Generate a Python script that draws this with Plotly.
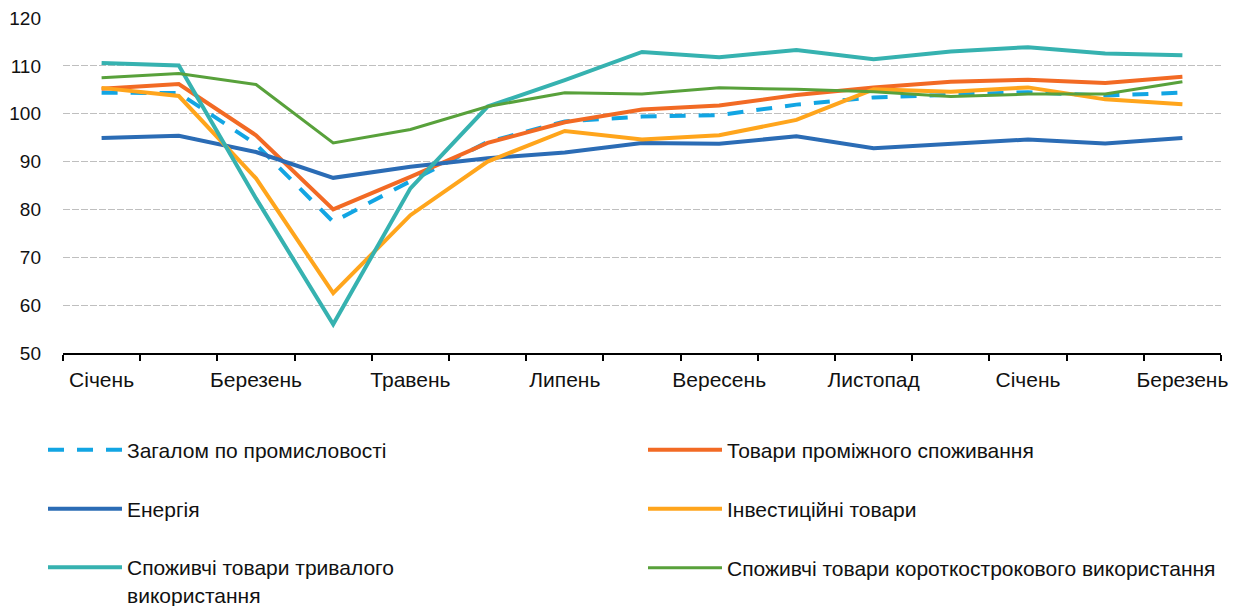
import plotly.graph_objects as go

months = ["Січень", "Лютий", "Березень", "Квітень", "Травень", "Червень", "Липень",
          "Серпень", "Вересень", "Жовтень", "Листопад", "Грудень", "Січень", "Лютий", "Березень"]

total = [104.4, 104.3, 93.6, 77.4, 85.9, 94.1, 98.4, 99.4, 99.7, 101.9, 103.4, 104.0, 104.5, 103.8, 104.4]
intermediate = [105.2, 106.2, 95.5, 80.0, 86.8, 93.9, 98.2, 100.9, 101.7, 103.9, 105.5, 106.7, 107.1, 106.4, 107.7]
energy = [94.9, 95.4, 92.0, 86.6, 88.9, 90.7, 91.9, 93.9, 93.7, 95.3, 92.8, 93.8, 94.6, 93.8, 94.9]
investment = [105.4, 103.7, 86.5, 62.5, 78.8, 90.0, 96.4, 94.6, 95.5, 98.7, 105.1, 104.6, 105.5, 103.0, 102.0]
durable = [110.6, 110.1, 82.3, 56.0, 84.4, 101.5, 107.0, 112.9, 111.8, 113.3, 111.4, 113.0, 113.9, 112.6, 112.2]
shortterm = [107.5, 108.4, 106.1, 93.9, 96.7, 101.5, 104.4, 104.1, 105.4, 105.1, 104.6, 103.6, 104.1, 104.1, 106.7]

names = ["Загалом по промисловості", "Товари проміжного споживання", "Енергія",
         "Інвестиційні товари", "Споживчі товари тривалого<br>використання",
         "Споживчі товари короткострокового використання"]
series = [total, intermediate, energy, investment, durable, shortterm]
colors = ["#12A5E3", "#F26A24", "#2B6CB5", "#FFA51C", "#36B2B0", "#58A13B"]
widths = [4, 4, 4, 4, 4, 3]
dashes = ["16px,13px", "solid", "solid", "solid", "solid", "solid"]
yticks = [50, 60, 70, 80, 90, 100, 110, 120]

xs = list(range(len(months)))
fig = go.Figure()
legend_ids = ["legend", "legend2", "legend3", "legend4", "legend5", "legend6"]
for i, (nm, vals) in enumerate(zip(names, series)):
    fig.add_trace(go.Scatter(
        x=xs, y=vals, mode="lines", name=nm,
        line=dict(color=colors[i], width=widths[i], dash=dashes[i]),
        legend=legend_ids[i], hoverinfo="skip"))

W, H = 1241, 606
L, R, T, B = 63, 20, 18, 253

font = dict(family="Liberation Sans, Arial, sans-serif", size=21, color="#111111")
yfont = dict(family="Liberation Sans, Arial, sans-serif", size=19, color="#111111")
# (left px, middle px, itemwidth)
leg_pos = [(43, 450, 74), (643, 450, 74), (43, 509, 74), (643, 509, 74), (43, 581, 74), (643, 568, 74)]
legends = {}
for i, lid in enumerate(legend_ids):
    lx, ly, iw = leg_pos[i]
    legends[lid] = dict(x=lx / W, y=1 - ly / H, xref="container", yref="container",
                        xanchor="left", yanchor="middle",
                        font=font, bgcolor="rgba(0,0,0,0)", borderwidth=0,
                        itemwidth=iw, valign="top", itemclick=False, itemdoubleclick=False)

fig.update_layout(
    width=W, height=H,
    margin=dict(l=L, r=R, t=T, b=B, autoexpand=False),
    paper_bgcolor="white", plot_bgcolor="white",
    showlegend=True,
    font=font,
    **legends,
)

fig.update_xaxes(
    range=[-0.5, len(months) - 0.5],
    tickvals=xs[::2], ticktext=months[::2],
    ticks="", showgrid=False, zeroline=False,
    showline=True, linecolor="black", linewidth=2,
    ticklabelstandoff=7,
    tickfont=font,
    minor=dict(tickvals=[v - 0.5 for v in xs] + [len(months) - 0.5],
               ticks="outside", ticklen=6, tickcolor="black", tickwidth=1.5,
               showgrid=False),
)
fig.update_yaxes(
    range=[50, 120], tickvals=yticks,
    showgrid=True, gridcolor="#BFBFBF", griddash="7px,2px", gridwidth=1,
    zeroline=False, showline=False, ticks="",
    ticklabelstandoff=21, tickfont=yfont,
)

fig.write_html("out.html", config={"displayModeBar": False},
               post_script="document.body.style.margin='0px';")
